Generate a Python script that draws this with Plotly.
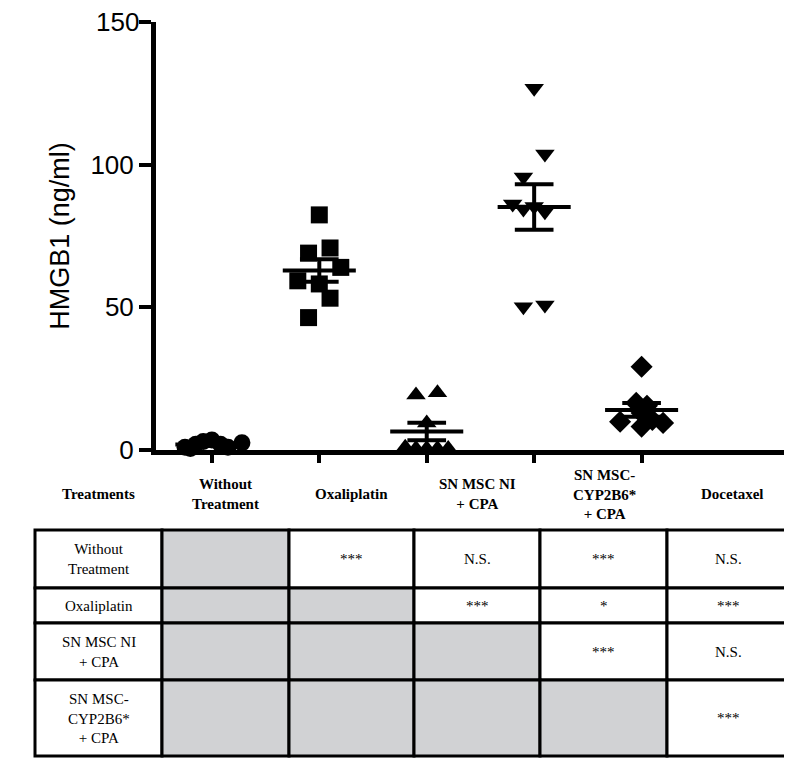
import numpy as np
import plotly.graph_objects as go

# the page puts the figure 8px in from the corner
OFF = 8
W, H = 792 - OFF, 758 - OFF

# data (ng/ml)
groups = ["Without Treatment", "Oxaliplatin", "SN MSC NI + CPA", "SN MSC-CYP2B6* + CPA", "Docetaxel"]
without_tx = [1.0, 2.0, 3.0, 3.5, 2.0, 1.0, 0.5, 2.5]
oxaliplatin = [82.4, 69.0, 70.8, 64.0, 59.3, 58.2, 53.2, 46.4]
msc_ni = [19.3, 20.1, 9.5, 1.0, 0.5, 0.5, 0.5, 0.5]
msc_cyp = [126.8, 103.7, 95.7, 86.2, 84.5, 85.3, 83.5, 50.2, 50.8]
docetaxel = [29.2, 16.5, 15.5, 13.0, 9.9, 8.2, 10.5, 9.5]
values = [without_tx, oxaliplatin, msc_ni, msc_cyp, docetaxel]
symbols = ["circle", "square", "triangle-up", "triangle-down", "diamond"]
y_ticks = [0, 50, 100, 150]

# horizontal scatter of points (category units)
jitter = [
    [-0.25, -0.15, -0.08, 0.0, 0.08, 0.15, -0.2, 0.28],
    [0.0, -0.1, 0.1, 0.2, -0.2, 0.0, 0.1, -0.1],
    [-0.1, 0.1, 0.0, -0.2, 0.0, 0.2, -0.1, 0.1],
    [0.0, 0.1, -0.1, -0.2, -0.1, 0.0, 0.1, -0.1, 0.1],
    [0.0, -0.05, 0.05, 0.0, -0.2, 0.0, 0.1, 0.2],
]

header = ["Without<br>Treatment", "Oxaliplatin", "SN MSC NI<br>+ CPA", "SN MSC-<br>CYP2B6*<br>+ CPA", "Docetaxel"]
row_labels = ["Without<br>Treatment", "Oxaliplatin", "SN MSC NI<br>+ CPA", "SN MSC-<br>CYP2B6*<br>+ CPA"]
stats = [
    ["", "***", "N.S.", "***", "N.S."],
    ["", "", "***", "*", "***"],
    ["", "", "", "***", "N.S."],
    ["", "", "", "", "***"],
]

SERIF = "serif"

fig = go.Figure()
for i, (vals, sym) in enumerate(zip(values, symbols)):
    x = [i + 1 + j for j in jitter[i]]
    fig.add_trace(go.Scatter(x=x, y=vals, mode="markers", cliponaxis=False,
                             marker=dict(symbol=sym, size=17, color="black"), showlegend=False))
    m = np.mean(vals)
    sem = np.std(vals, ddof=1) / np.sqrt(len(vals))
    c = i + 1
    fig.add_trace(go.Scatter(x=[c - 0.34, c + 0.34], y=[m, m], mode="lines", cliponaxis=False,
                             line=dict(color="black", width=4), showlegend=False))
    fig.add_trace(go.Scatter(x=[c, c, None, c - 0.18, c + 0.18, None, c - 0.18, c + 0.18],
                             y=[m - sem, m + sem, None, m + sem, m + sem, None, m - sem, m - sem],
                             mode="lines", cliponaxis=False,
                             line=dict(color="black", width=4), showlegend=False))

def px(x):
    return (x - OFF) / W

def py(y):
    return 1 - (y - OFF) / H

shapes = []
annotations = []
cols = [35, 162, 289, 414, 540, 667, 790]
rows = [530, 588, 623, 680, 756]
for r in range(4):
    for c in range(6):
        fill = "white"
        if c >= 1 and c - 1 <= r:
            fill = "#d1d2d4"
        shapes.append(dict(type="rect", xref="paper", yref="paper",
                           x0=px(cols[c]), x1=px(cols[c + 1]), y0=py(rows[r + 1]), y1=py(rows[r]),
                           fillcolor=fill, line=dict(color="black", width=3)))
        txt = row_labels[r] if c == 0 else stats[r][c - 1]
        if txt:
            annotations.append(dict(xref="paper", yref="paper", showarrow=False,
                                    xanchor="center", yanchor="middle",
                                    x=px((cols[c] + cols[c + 1]) / 2), y=py((rows[r] + rows[r + 1]) / 2),
                                    text=txt, font=dict(family=SERIF, size=15, color="black")))

hdr_x = [98, 225, 351, 477, 604, 732]
for t, xx in zip(["Treatments"] + header, hdr_x):
    annotations.append(dict(xref="paper", yref="paper", showarrow=False, xanchor="center", yanchor="middle",
                            x=px(xx), y=py(494),
                            text="<b>" + t + "</b>", font=dict(family=SERIF, size=15, color="black")))

# top tick label would be clipped by plotly, so draw it as text at the axis value
annotations.append(dict(xref="paper", yref="y", showarrow=False, xanchor="right", yanchor="middle",
                        x=px(141), y=y_ticks[-1], text=str(y_ticks[-1]),
                        font=dict(family="Liberation Sans", size=26, color="black")))

fig.update_layout(
    width=W, height=H, margin=dict(l=0, r=0, t=0, b=0, autoexpand=False),
    plot_bgcolor="white", paper_bgcolor="white",
    shapes=shapes, annotations=annotations,
    xaxis=dict(domain=[px(156), 1], range=[0.48, 6.4], showgrid=False, zeroline=False,
               showline=True, linecolor="black", linewidth=5,
               tickvals=[1, 2, 3, 4, 5], ticktext=[""] * 5, ticks="outside", ticklen=8,
               tickwidth=4, tickcolor="black"),
    yaxis=dict(domain=[py(450), py(22)], range=[0, 150], showgrid=False, zeroline=False,
               showline=True, linecolor="black", linewidth=5,
               tickvals=y_ticks, ticktext=[str(v) for v in y_ticks[:-1]] + [""],
               ticks="outside", ticklen=12, tickwidth=4, tickcolor="black",
               tickfont=dict(family="Liberation Sans", size=26, color="black"),
               title=dict(text="HMGB1 (ng/ml)", standoff=14,
                          font=dict(family="Liberation Sans", size=27, color="black"))),
)

fig.write_html("out.html")
